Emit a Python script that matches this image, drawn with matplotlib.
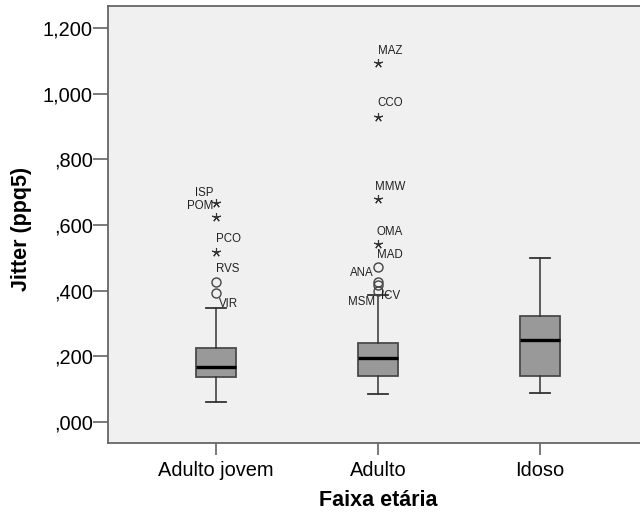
import matplotlib
matplotlib.use('Agg')
import matplotlib.pyplot as plt
from matplotlib.ticker import FuncFormatter

plt.rcParams['font.family'] = ['Liberation Sans', 'DejaVu Sans']

groups = ['Adulto jovem', 'Adulto', 'Idoso']
q1 = [0.135, 0.140, 0.139]
med = [0.166, 0.194, 0.249]
q3 = [0.224, 0.239, 0.322]
whis_lo = [0.059, 0.084, 0.087]
whis_hi = [0.346, 0.387, 0.500]

# outliers (circles) and extremes (stars) per group
circles = [[0.427, 0.394], [0.473, 0.425, 0.417, 0.399], []]
stars = [[0.666, 0.624, 0.519], [1.095, 0.930, 0.678, 0.542], []]

# case labels: (text, group index, value of the marked point)
case_labels = [('ISP', 0, 0.666), ('POM', 0, 0.624), ('PCO', 0, 0.519),
               ('RVS', 0, 0.427), ('VIR', 0, 0.394),
               ('MAZ', 1, 1.095), ('CCO', 1, 0.930), ('MMW', 1, 0.678),
               ('OMA', 1, 0.542), ('MAD', 1, 0.473), ('ANA', 1, 0.425),
               ('ICV', 1, 0.417), ('MSM', 1, 0.399)]
# label offsets in pixels (right, up)
label_offsets = {'ISP': (-12, 10), 'POM': (-16, 11), 'PCO': (12, 12.7),
                 'RVS': (12, 12.7), 'VIR': (13, -11.3), 'MAZ': (12, 12),
                 'CCO': (12, 13.7), 'MMW': (12, 12.3), 'OMA': (12, 12),
                 'MAD': (12, 12), 'ANA': (-16, 9.6), 'ICV': (12.7, -11),
                 'MSM': (-16, -11)}

yticks = [0.0, 0.2, 0.4, 0.6, 0.8, 1.0, 1.2]


def fmt(v, pos):
    s = f'{v:.3f}'.replace('.', ',')
    return s[1:] if s.startswith('0') else s


def main():
    fig = plt.figure(figsize=(6.4, 5.17), dpi=100)
    ax = fig.add_axes([108 / 640, 74 / 517, 540 / 640, 437 / 517])
    ax.set_facecolor('#f0f0f0')

    pos = [1, 2, 3]
    stats = [dict(med=med[i], q1=q1[i], q3=q3[i], whislo=whis_lo[i],
                  whishi=whis_hi[i], fliers=[]) for i in range(3)]
    ax.bxp(stats, positions=pos, widths=0.253, patch_artist=True,
           showfliers=False,
           boxprops=dict(facecolor='#999999', edgecolor='#4a4a4a', linewidth=1.3),
           medianprops=dict(color='black', linewidth=2.4),
           whiskerprops=dict(color='#333333', linewidth=1.1),
           capprops=dict(color='#333333', linewidth=1.3))

    for i in range(3):
        if circles[i]:
            ax.plot([pos[i]] * len(circles[i]), circles[i], 'o', ms=6.5,
                    mfc='none', mec='#444444', mew=1.0)
        if stars[i]:
            ax.plot([pos[i]] * len(stars[i]), stars[i], marker=(5, 2, 0),
                    ls='none', ms=6.5, color='#333333', mew=0.8)

    for name, g, v in case_labels:
        dx, dy = label_offsets[name]
        ax.annotate(name, (pos[g], v), xytext=(dx * 0.72, dy * 0.72),
                    textcoords='offset points', ha='center', va='center',
                    fontsize=8.3, color='#222222')

    ax.set_xlim(1 / 3, 3 + 2 / 3)
    ax.set_ylim(-0.065, 1.268)
    ax.set_xticks(pos)
    ax.set_xticklabels(groups, fontsize=14.4)
    ax.set_yticks(yticks)
    ax.yaxis.set_major_formatter(FuncFormatter(fmt))
    ax.tick_params(axis='y', labelsize=14.4, length=10.5, width=1.1,
                   color='#555555', pad=0.5)
    ax.tick_params(axis='x', length=8.8, width=1.1, color='#555555', pad=4)
    for s in ax.spines.values():
        s.set_color('#666666')
        s.set_linewidth(1.3)

    ax.set_xlabel('Faixa etária', fontsize=15.5, fontweight='bold')
    ax.set_ylabel('Jitter (ppq5)', fontsize=15.5, fontweight='bold')
    ax.xaxis.set_label_coords(0.5, -(500 - 443) / 437, transform=ax.transAxes)
    ax.yaxis.set_label_coords(-(108 - 22) / 540, 0.49, transform=ax.transAxes)
    ax.xaxis.label.set_va('center')
    ax.yaxis.label.set_va('center')

    fig.savefig('out.png', dpi=100)


if __name__ == '__main__':
    main()
